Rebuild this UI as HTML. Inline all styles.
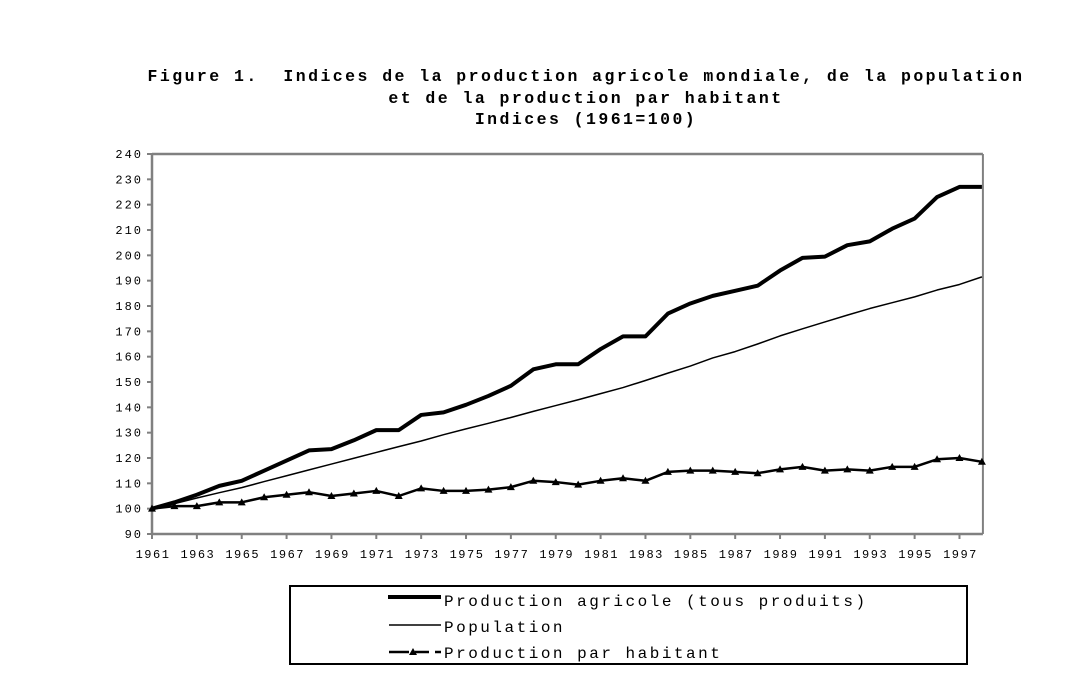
<!DOCTYPE html>
<html><head><meta charset="utf-8"><style>
body{margin:0;background:#fff;width:1085px;height:676px;overflow:hidden}
svg text{font-family:"Liberation Mono",monospace;white-space:pre}
</style></head><body>
<svg width="1085" height="676">
<g font-weight="bold" font-size="16.5" text-anchor="middle" letter-spacing="2.45">
<text x="586" y="81">Figure 1.  Indices de la production agricole mondiale, de la population</text>
<text x="586" y="103">et de la production par habitant</text>
<text x="586" y="124">Indices (1961=100)</text>
</g>
<g id="axes"></g>
<g id="series"></g>
<g>
<rect x="290" y="586" width="677" height="78" fill="none" stroke="#000" stroke-width="2"/>
<line x1="388" y1="597" x2="441" y2="597" stroke="#000" stroke-width="4"/>
<text x="444" y="606" font-size="16" letter-spacing="2.5">Production agricole (tous produits)</text>
<line x1="389" y1="625" x2="441" y2="625" stroke="#000" stroke-width="1.5"/>
<text x="444" y="632" font-size="16" letter-spacing="2.5">Population</text>
<line x1="389" y1="652" x2="441" y2="652" stroke="#000" stroke-width="2.5" stroke-dasharray="20,6,14,6"/>
<polygon points="413,648 409,655 417,655" fill="#000"/>
<text x="444" y="658" font-size="16" letter-spacing="2.5">Production par habitant</text>
</g>
</svg>
<script>
const years=[];for(let y=1961;y<=1998;y++)years.push(y);
const production=[100,102.5,105.5,109,111,115,119,123,123.5,127,131,131,137,138,141,144.5,148.5,155,157,157,163,168,168,177,181,184,186,188,194,199,199.5,204,205.5,210.5,214.5,223,227,227];
const population=[100,102,104.2,106.3,108.3,110.7,113,115.3,117.6,119.9,122.2,124.5,126.7,129.2,131.5,133.7,136,138.4,140.7,143,145.4,147.8,150.6,153.5,156.3,159.5,162,165,168.2,171,173.7,176.4,179,181.3,183.6,186.3,188.5,191.5];
const perCapita=[100,101,101,102.5,102.5,104.5,105.5,106.5,105,106,107,105,108,107,107,107.5,108.5,111,110.5,109.5,111,112,111,114.5,115,115,114.5,114,115.5,116.5,115,115.5,115,116.5,116.5,119.5,120,118.5];
const yTicks=[90,100,110,120,130,140,150,160,170,180,190,200,210,220,230,240];
const NS="http://www.w3.org/2000/svg";
const x0=152,step=22.43,yTop=154,yBot=534;
const X=i=>x0+i*step;
const Y=v=>yBot-(v-90)/150*(yBot-yTop);
function mk(t,a,p){const e=document.createElementNS(NS,t);for(const k in a)e.setAttribute(k,a[k]);p.appendChild(e);return e;}
const ax=document.getElementById('axes');
const xr=X(years.length-1)+1;
let e=mk('line',{x1:x0,y1:yBot,x2:xr,y2:yBot,stroke:'#808080','stroke-width':2.5},ax);


e=mk('line',{x1:x0,y1:yTop,x2:x0,y2:yBot,stroke:'#808080','stroke-width':2.5},ax);


mk('line',{x1:x0,y1:yTop,x2:xr,y2:yTop,stroke:'#808080','stroke-width':2.5},ax);
mk('line',{x1:xr,y1:yTop,x2:xr,y2:yBot,stroke:'#808080','stroke-width':2},ax);
yTicks.forEach(v=>{
 mk('line',{x1:x0-5,y1:Y(v),x2:x0,y2:Y(v),stroke:'#808080','stroke-width':2},ax);
 const t=mk('text',{x:x0-9,y:Y(v)+4,'font-size':12,'text-anchor':'end','letter-spacing':'2'},ax);
 t.textContent=v;
 
 
});
years.forEach((yr,i)=>{
 if(i%2)return;
 mk('line',{x1:X(i),y1:yBot,x2:X(i),y2:yBot+5,stroke:'#808080','stroke-width':2},ax);
 const t=mk('text',{x:X(i)+1,y:yBot+24,'font-size':12,'text-anchor':'middle','letter-spacing':'1.5'},ax);
 t.textContent=yr;
 
 
});
const sg=document.getElementById('series');
function line(d,w,name){
 const p=mk('polyline',{points:d.map((v,i)=>X(i)+','+Y(v)).join(' '),fill:'none',stroke:'#000','stroke-width':w,'stroke-linejoin':'round'},sg);
 
 
}
line(population,1.5,'population-line');
line(production,4,'production-line');
line(perCapita,2.5,'per-capita-line');
perCapita.forEach((v,i)=>{
 const cx=X(i),cy=Y(v);
 const m=mk('polygon',{points:`${cx},${cy-4} ${cx-4},${cy+3} ${cx+4},${cy+3}`,fill:'#000'},sg);
 
 
});
</script>
</body></html>
